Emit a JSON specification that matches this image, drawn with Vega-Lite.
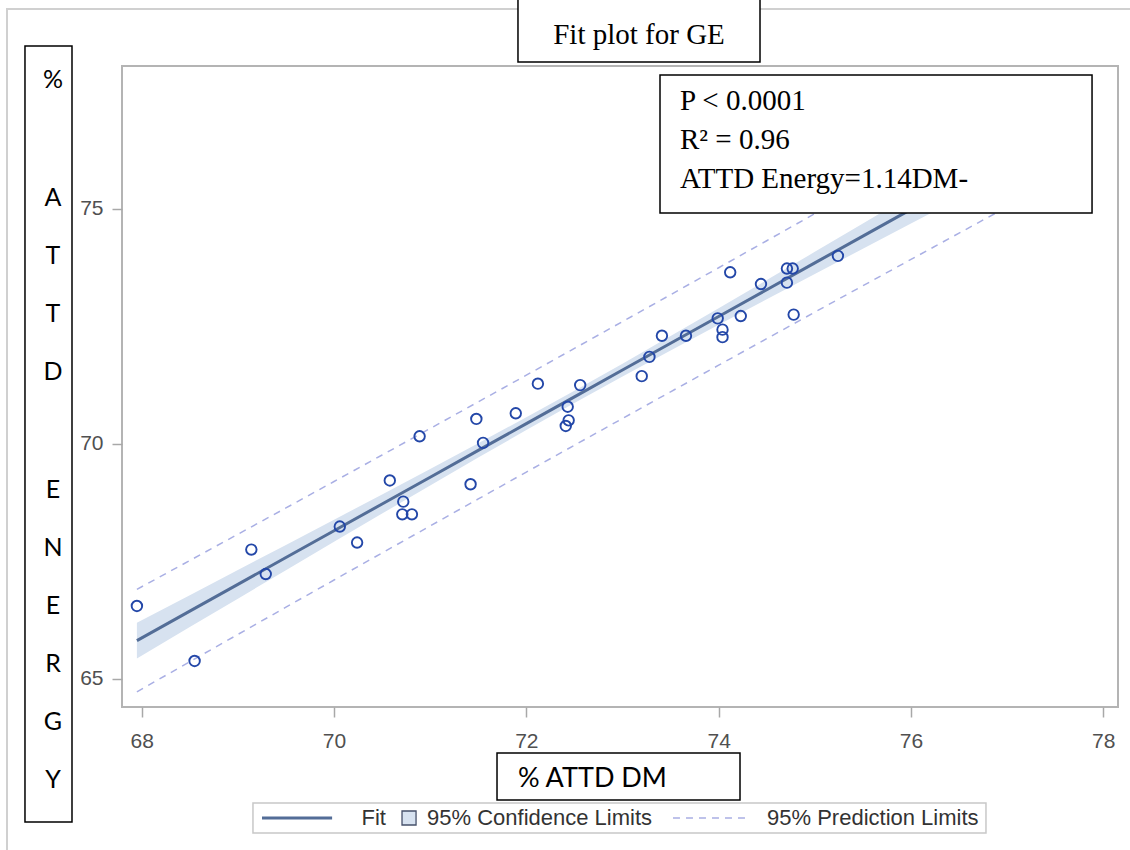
{
  "$schema": "https://vega.github.io/schema/vega-lite/v6.json",
  "width": 996,
  "height": 641,
  "autosize": {"type": "none"},
  "padding": {"left": 122, "top": 66, "right": 12, "bottom": 143},
  "background": "white",
  "datasets": {
    "points": [
      {"dm": 67.95, "energy": 66.55}, {"dm": 68.55, "energy": 65.38}, {"dm": 69.14, "energy": 67.75},
      {"dm": 69.29, "energy": 67.23}, {"dm": 70.06, "energy": 68.24}, {"dm": 70.24, "energy": 67.90},
      {"dm": 70.58, "energy": 69.22}, {"dm": 70.72, "energy": 68.77}, {"dm": 70.71, "energy": 68.50},
      {"dm": 70.81, "energy": 68.50}, {"dm": 70.89, "energy": 70.16}, {"dm": 71.42, "energy": 69.14},
      {"dm": 71.48, "energy": 70.53}, {"dm": 71.55, "energy": 70.02}, {"dm": 71.89, "energy": 70.65},
      {"dm": 72.12, "energy": 71.28}, {"dm": 72.41, "energy": 70.38}, {"dm": 72.44, "energy": 70.50},
      {"dm": 72.43, "energy": 70.79}, {"dm": 72.56, "energy": 71.25}, {"dm": 73.20, "energy": 71.44},
      {"dm": 73.28, "energy": 71.85}, {"dm": 73.41, "energy": 72.30}, {"dm": 73.66, "energy": 72.30},
      {"dm": 73.99, "energy": 72.67}, {"dm": 74.04, "energy": 72.43}, {"dm": 74.04, "energy": 72.27},
      {"dm": 74.12, "energy": 73.65}, {"dm": 74.23, "energy": 72.72}, {"dm": 74.44, "energy": 73.40},
      {"dm": 74.71, "energy": 73.73}, {"dm": 74.77, "energy": 73.73}, {"dm": 74.71, "energy": 73.43},
      {"dm": 74.78, "energy": 72.75}, {"dm": 75.24, "energy": 74.00}
    ],
    "fit": [
      {"x": 67.95, "fit": 65.813, "lclm": 65.433, "uclm": 66.193, "lpl": 64.723, "upl": 66.903},
      {"x": 68.5, "fit": 66.44, "lclm": 66.10, "uclm": 66.78, "lpl": 65.363, "upl": 67.517},
      {"x": 69.0, "fit": 67.01, "lclm": 66.706, "uclm": 67.314, "lpl": 65.944, "upl": 68.076},
      {"x": 69.5, "fit": 67.58, "lclm": 67.311, "uclm": 67.849, "lpl": 66.524, "upl": 68.636},
      {"x": 70.0, "fit": 68.15, "lclm": 67.915, "uclm": 68.385, "lpl": 67.102, "upl": 69.198},
      {"x": 70.5, "fit": 68.72, "lclm": 68.516, "uclm": 68.924, "lpl": 67.678, "upl": 69.762},
      {"x": 71.0, "fit": 69.29, "lclm": 69.115, "uclm": 69.465, "lpl": 68.253, "upl": 70.327},
      {"x": 71.5, "fit": 69.86, "lclm": 69.708, "uclm": 70.012, "lpl": 68.827, "upl": 70.893},
      {"x": 72.0, "fit": 70.43, "lclm": 70.294, "uclm": 70.566, "lpl": 69.399, "upl": 71.461},
      {"x": 72.5, "fit": 71.00, "lclm": 70.87, "uclm": 71.13, "lpl": 69.97, "upl": 72.03},
      {"x": 73.0, "fit": 71.57, "lclm": 71.434, "uclm": 71.706, "lpl": 70.539, "upl": 72.601},
      {"x": 73.5, "fit": 72.14, "lclm": 71.988, "uclm": 72.292, "lpl": 71.107, "upl": 73.173},
      {"x": 74.0, "fit": 72.71, "lclm": 72.535, "uclm": 72.885, "lpl": 71.673, "upl": 73.747},
      {"x": 74.5, "fit": 73.28, "lclm": 73.076, "uclm": 73.484, "lpl": 72.238, "upl": 74.322},
      {"x": 75.0, "fit": 73.85, "lclm": 73.615, "uclm": 74.085, "lpl": 72.802, "upl": 74.898},
      {"x": 75.5, "fit": 74.42, "lclm": 74.151, "uclm": 74.689, "lpl": 73.364, "upl": 75.476},
      {"x": 76.0, "fit": 74.99, "lclm": 74.686, "uclm": 75.294, "lpl": 73.924, "upl": 76.056},
      {"x": 76.5, "fit": 75.56, "lclm": 75.22, "uclm": 75.90, "lpl": 74.483, "upl": 76.637},
      {"x": 76.9, "fit": 76.016, "lclm": 75.647, "uclm": 76.385, "lpl": 74.93, "upl": 77.102}
    ],
    "one": [{}]
  },
  "layer": [
    {
      "data": {"name": "one"},
      "mark": {"type": "rect", "fill": "white", "fillOpacity": 0, "stroke": "#d0d0d0", "strokeWidth": 2},
      "encoding": {
        "x": {"datum": 66.599, "type": "quantitative"},
        "x2": {"datum": 78.40},
        "y": {"datum": 79.253, "type": "quantitative"},
        "y2": {"datum": 61.1}
      }
    },
    {
      "data": {"name": "fit"},
      "mark": {"type": "area", "color": "#d7e2f0", "opacity": 1},
      "encoding": {
        "x": {"field": "x", "type": "quantitative", "title": null,
              "scale": {"domain": [67.795, 78.153], "nice": false, "zero": false},
              "axis": {"values": [68, 70, 72, 74, 76, 78], "format": "d", "grid": false, "domain": false, "tickSize": 10, "tickColor": "#a8a8a8", "tickWidth": 1.5,
                       "labelFont": "Liberation Sans", "labelFontSize": 21, "labelColor": "#505050", "labelPadding": 13, "labelFlush": false, "labelOverlap": false}},
        "y": {"field": "lclm", "type": "quantitative", "title": null,
              "scale": {"domain": [64.40, 78.04], "nice": false, "zero": false},
              "axis": {"values": [65, 70, 75], "format": "d", "grid": false, "domain": false, "tickSize": 10, "tickColor": "#a8a8a8", "tickWidth": 1.5,
                       "labelFont": "Liberation Sans", "labelFontSize": 21, "labelColor": "#505050", "labelPadding": 9, "labelFlush": false, "labelOverlap": false}},
        "y2": {"field": "uclm"}
      }
    },
    {
      "data": {"name": "fit"},
      "mark": {"type": "line", "color": "#a9afe4", "strokeWidth": 1.5, "strokeDash": [7, 6]},
      "encoding": {
        "x": {"field": "x", "type": "quantitative", "title": null, "scale": {"domain": [67.795, 78.153], "nice": false, "zero": false}},
        "y": {"field": "upl", "type": "quantitative", "title": null, "scale": {"domain": [64.40, 78.04], "nice": false, "zero": false}}
      }
    },
    {
      "data": {"name": "fit"},
      "mark": {"type": "line", "color": "#a9afe4", "strokeWidth": 1.5, "strokeDash": [7, 6]},
      "encoding": {
        "x": {"field": "x", "type": "quantitative", "title": null, "scale": {"domain": [67.795, 78.153], "nice": false, "zero": false}},
        "y": {"field": "lpl", "type": "quantitative", "title": null, "scale": {"domain": [64.40, 78.04], "nice": false, "zero": false}}
      }
    },
    {
      "data": {"name": "fit"},
      "mark": {"type": "line", "color": "#536d97", "strokeWidth": 3},
      "encoding": {
        "x": {"field": "x", "type": "quantitative", "title": null, "scale": {"domain": [67.795, 78.153], "nice": false, "zero": false}},
        "y": {"field": "fit", "type": "quantitative", "title": null, "scale": {"domain": [64.40, 78.04], "nice": false, "zero": false}}
      }
    },
    {
      "data": {"name": "points"},
      "mark": {"type": "point", "shape": "circle", "filled": false, "color": "#2347a8", "size": 110, "strokeWidth": 1.9, "opacity": 1},
      "encoding": {
        "x": {"field": "dm", "type": "quantitative", "title": null, "scale": {"domain": [67.795, 78.153], "nice": false, "zero": false}},
        "y": {"field": "energy", "type": "quantitative", "title": null, "scale": {"domain": [64.40, 78.04], "nice": false, "zero": false}}
      }
    },
    {
      "data": {"name": "one"},
      "mark": {"type": "rect", "fill": "white", "stroke": "black", "strokeWidth": 1.5},
      "encoding": {
        "x": {"datum": 73.39, "type": "quantitative"},
        "x2": {"datum": 77.883},
        "y": {"datum": 77.848, "type": "quantitative"},
        "y2": {"datum": 74.912}
      }
    },
    {
      "data": {"name": "one"},
      "mark": {"type": "text", "font": "Liberation Serif", "fontSize": 29, "color": "black", "align": "left", "baseline": "alphabetic", "lineHeight": 39,
               "text": ["P < 0.0001", "R² = 0.96", "ATTD Energy=1.14DM-"]},
      "encoding": {
        "x": {"datum": 73.598, "type": "quantitative"},
        "y": {"datum": 77.104, "type": "quantitative"}
      }
    },
    {
      "data": {"name": "one"},
      "mark": {"type": "rect", "fill": "white", "stroke": "black", "strokeWidth": 1.5},
      "encoding": {
        "x": {"datum": 71.913, "type": "quantitative"},
        "x2": {"datum": 74.43},
        "y": {"datum": 79.49, "type": "quantitative"},
        "y2": {"datum": 78.125}
      }
    },
    {
      "data": {"name": "one"},
      "mark": {"type": "text", "font": "Liberation Serif", "fontSize": 29, "color": "black", "align": "center", "baseline": "alphabetic", "text": "Fit plot for GE"},
      "encoding": {
        "x": {"datum": 73.172, "type": "quantitative"},
        "y": {"datum": 78.508, "type": "quantitative"}
      }
    },
    {
      "data": {"name": "one"},
      "mark": {"type": "rect", "fill": "white", "stroke": "black", "strokeWidth": 1.5},
      "encoding": {
        "x": {"datum": 66.786, "type": "quantitative"},
        "x2": {"datum": 67.275},
        "y": {"datum": 78.466, "type": "quantitative"},
        "y2": {"datum": 61.953}
      }
    },
    {
      "data": {"name": "one"},
      "mark": {"type": "text", "font": "Lato", "fontSize": 25, "color": "black", "align": "center", "baseline": "middle", "text": "%"},
      "encoding": {
        "x": {"datum": 67.077, "type": "quantitative"},
        "y": {"datum": 77.742, "type": "quantitative"}
      }
    },
    {
      "data": {"name": "one"},
      "mark": {"type": "text", "font": "Lato", "fontSize": 25, "color": "black", "align": "center", "baseline": "middle", "lineHeight": 58,
               "text": ["A", "T", "T", "D"]},
      "encoding": {
        "x": {"datum": 67.077, "type": "quantitative"},
        "y": {"datum": 75.231, "type": "quantitative"}
      }
    },
    {
      "data": {"name": "one"},
      "mark": {"type": "text", "font": "Lato", "fontSize": 25, "color": "black", "align": "center", "baseline": "middle", "lineHeight": 58,
               "text": ["E", "N", "E", "R", "G", "Y"]},
      "encoding": {
        "x": {"datum": 67.077, "type": "quantitative"},
        "y": {"datum": 69.018, "type": "quantitative"}
      }
    },
    {
      "data": {"name": "one"},
      "mark": {"type": "rect", "fill": "white", "stroke": "black", "strokeWidth": 1.5},
      "encoding": {
        "x": {"datum": 71.695, "type": "quantitative"},
        "x2": {"datum": 74.222},
        "y": {"datum": 63.421, "type": "quantitative"},
        "y2": {"datum": 62.421}
      }
    },
    {
      "data": {"name": "one"},
      "mark": {"type": "text", "font": "Lato", "fontSize": 27, "color": "black", "align": "left", "baseline": "alphabetic", "text": "% ATTD DM"},
      "encoding": {
        "x": {"datum": 71.913, "type": "quantitative"},
        "y": {"datum": 62.698, "type": "quantitative"}
      }
    },
    {
      "data": {"name": "one"},
      "mark": {"type": "rect", "fill": "white", "stroke": "#c8c8c8", "strokeWidth": 1.5},
      "encoding": {
        "x": {"datum": 69.157, "type": "quantitative"},
        "x2": {"datum": 76.78},
        "y": {"datum": 62.357, "type": "quantitative"},
        "y2": {"datum": 61.719}
      }
    },
    {
      "data": {"name": "one"},
      "mark": {"type": "rule", "color": "#536d97", "strokeWidth": 3},
      "encoding": {
        "x": {"datum": 69.251, "type": "quantitative"},
        "x2": {"datum": 69.98},
        "y": {"datum": 62.038, "type": "quantitative"}
      }
    },
    {
      "data": {"name": "one"},
      "mark": {"type": "rect", "fill": "#d7e2f0", "stroke": "#46506a", "strokeWidth": 1.3},
      "encoding": {
        "x": {"datum": 70.707, "type": "quantitative"},
        "x2": {"datum": 70.853},
        "y": {"datum": 62.187, "type": "quantitative"},
        "y2": {"datum": 61.889}
      }
    },
    {
      "data": {"name": "one"},
      "mark": {"type": "rule", "color": "#a9afe4", "strokeWidth": 1.5, "strokeDash": [7, 6]},
      "encoding": {
        "x": {"datum": 73.525, "type": "quantitative"},
        "x2": {"datum": 74.326},
        "y": {"datum": 62.038, "type": "quantitative"}
      }
    },
    {
      "data": {"name": "one"},
      "mark": {"type": "text", "font": "Liberation Sans", "fontSize": 22, "color": "#333333", "align": "left", "baseline": "middle", "text": "Fit"},
      "encoding": {
        "x": {"datum": 70.286, "type": "quantitative"},
        "y": {"datum": 62.038, "type": "quantitative"}
      }
    },
    {
      "data": {"name": "one"},
      "mark": {"type": "text", "font": "Liberation Sans", "fontSize": 22, "color": "#333333", "align": "left", "baseline": "middle", "text": "95% Confidence Limits"},
      "encoding": {
        "x": {"datum": 70.967, "type": "quantitative"},
        "y": {"datum": 62.038, "type": "quantitative"}
      }
    },
    {
      "data": {"name": "one"},
      "mark": {"type": "text", "font": "Liberation Sans", "fontSize": 22, "color": "#333333", "align": "left", "baseline": "middle", "text": "95% Prediction Limits"},
      "encoding": {
        "x": {"datum": 74.503, "type": "quantitative"},
        "y": {"datum": 62.038, "type": "quantitative"}
      }
    }
  ],
  "config": {
    "view": {"stroke": "#b4b4b4", "strokeWidth": 2}
  }
}
